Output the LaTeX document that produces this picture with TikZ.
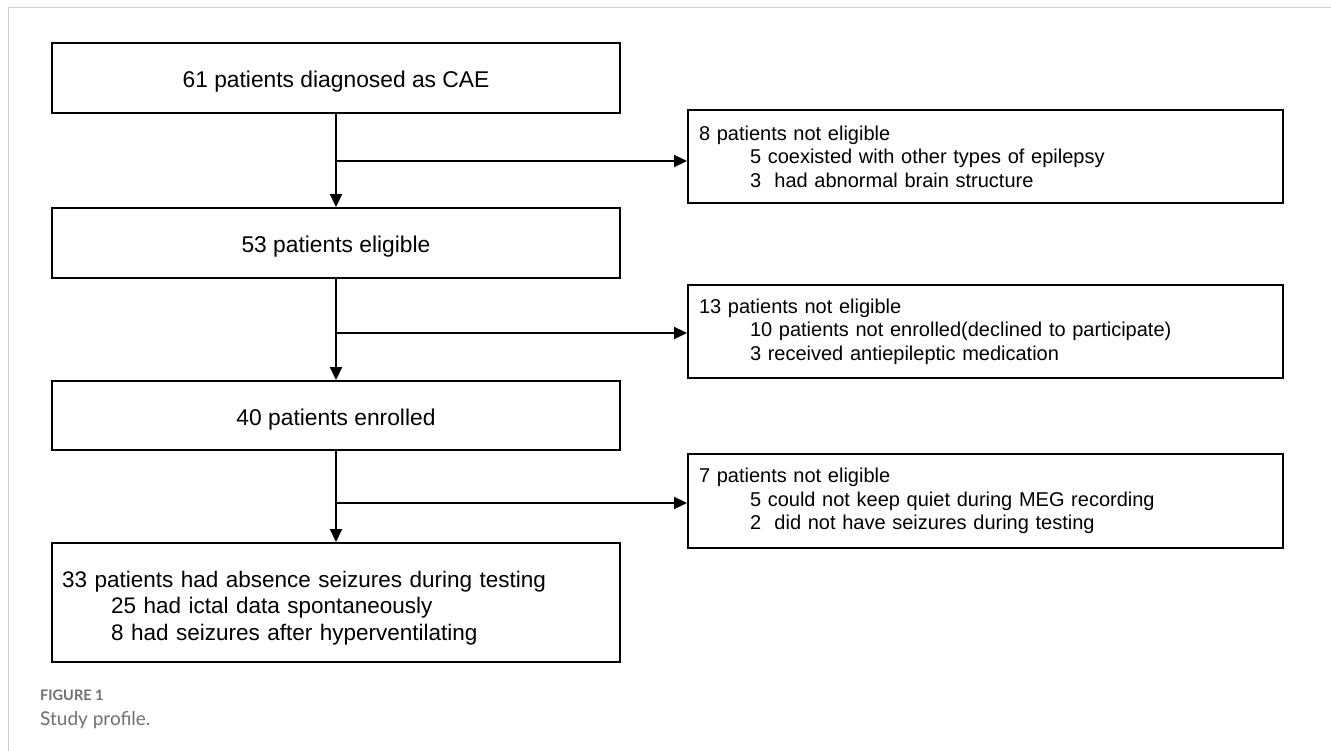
\documentclass[tikz,border=0pt]{standalone}
\usepackage{fontspec}
\setmainfont{Liberation Sans}
\newfontfamily\capfont{Lato}
\usetikzlibrary{arrows.meta}
\definecolor{framegray}{HTML}{D0D0D0}
\definecolor{capgray}{HTML}{707070}
\tikzset{
  mainbox/.style={draw=black, line width=1.9pt, inner sep=0pt, minimum width=568pt, text height=20pt, text depth=0pt, font=\fontsize{22.8pt}{27pt}\selectfont},
  sidebox/.style={draw=black, line width=1.9pt, inner xsep=11pt, inner ysep=0pt, minimum width=595pt, text width=573pt, align=left, font=\fontsize{20pt}{23.4pt}\selectfont},
  lastbox/.style={draw=black, line width=1.9pt, inner xsep=10pt, inner ysep=0pt, minimum width=568pt, text width=548pt, align=left, font=\fontsize{22.5pt}{26.5pt}\selectfont},
  arr/.style={line width=1.9pt, -{Triangle[length=13pt,width=12pt]}},
  capbold/.style={anchor=west, inner sep=0pt, text=capgray, font=\capfont\bfseries\fontsize{14.5pt}{16pt}\selectfont},
  capplain/.style={anchor=west, inner sep=0pt, text=capgray, font=\capfont\fontsize{19pt}{22pt}\selectfont}
}
\begin{document}
\begin{tikzpicture}[x=1pt,y=-1pt]
\useasboundingbox (0,0) rectangle (1331,751);
\draw[framegray, line width=1.5pt] (8.5,751) -- (8.5,7.5) -- (1331,7.5);

\node[mainbox, minimum height=70pt] (b1) at (336,78) {61 patients diagnosed as CAE};
\node[mainbox, minimum height=70pt] (b2) at (336,243) {53 patients eligible};
\node[mainbox, minimum height=69pt] (b3) at (336,415.5) {40 patients enrolled};
\node[lastbox, minimum height=119pt] (b4) at (336,602.5)
  {\rule{0pt}{27pt}33 patients had absence seizures during testing\\
   \hspace*{49pt}25 had ictal data spontaneously\\
   \hspace*{49pt}8 had seizures after hyperventilating};

\node[sidebox, minimum height=93pt] (r1) at (985.5,156.5)
  {8 patients not eligible\\
   \hspace*{51pt}5 coexisted with other types of epilepsy\\
   \hspace*{51pt}3~~had abnormal brain structure};
\node[sidebox, minimum height=93pt] (r2) at (985.5,331.5)
  {13 patients not eligible\\
   \hspace*{51pt}10 patients not enrolled(declined to participate)\\
   \hspace*{51pt}3 received antiepileptic medication};
\node[sidebox, minimum height=94pt] (r3) at (985.5,501)
  {7 patients not eligible\\
   \hspace*{51pt}5 could not keep quiet during MEG recording\\
   \hspace*{51pt}2~~did not have seizures during testing};

\coordinate (j1) at (336,161);
\coordinate (j2) at (336,333);
\coordinate (j3) at (336,503);
\draw[arr] (b1.south) -- (b2.north);
\draw[arr] (b2.south) -- (b3.north);
\draw[arr] (b3.south) -- (b4.north);
\draw[arr] (j1) -- (j1 -| r1.west);
\draw[arr] (j2) -- (j2 -| r2.west);
\draw[arr] (j3) -- (j3 -| r3.west);

\node[capbold] (cap1) at (40,695) {FIGURE 1};
\node[capplain] (cap2) at (40,720) {Study profile.};
\end{tikzpicture}
\end{document}
